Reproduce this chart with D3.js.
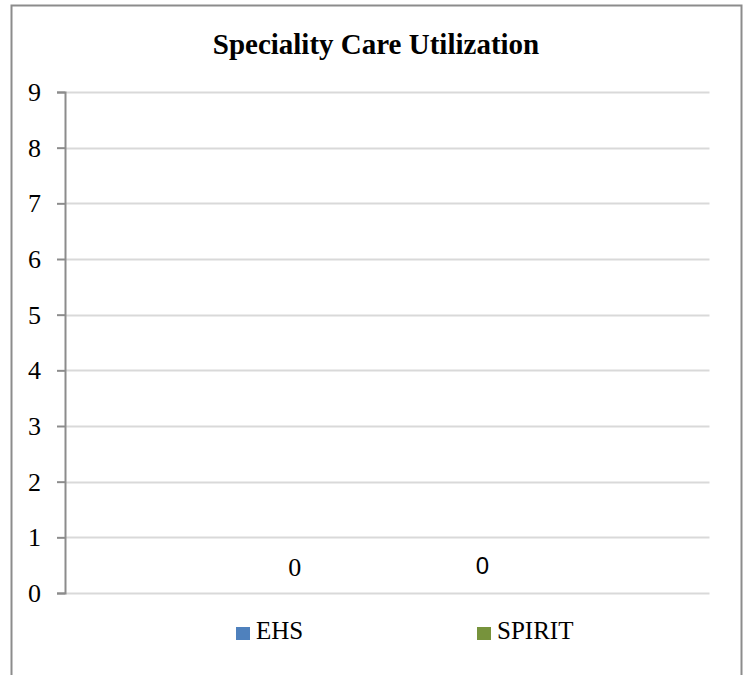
<!DOCTYPE html>
<html>
<head>
<meta charset="utf-8">
<script src="https://cdn.jsdelivr.net/npm/d3@7"></script>
<style>
  body { margin: 0; background: #fff; }
  svg { display: block; }
</style>
</head>
<body>
<div id="chart"></div>
<script>
// data
var categories = ['Speciality Care'];
var seriesNames = ['EHS', 'SPIRIT'];
var seriesValues = [0, 0];
var seriesColors = ['#4f81bd', '#77933c'];
var yTicks = [0, 1, 2, 3, 4, 5, 6, 7, 8, 9];

// svg container
var width = 748;
var height = 675;

var margin = { top: 92, right: 38, bottom: 82, left: 65 };
var chartWidth = width - margin.left - margin.right;
var chartHeight = height - margin.top - margin.bottom;

var serif = '"Liberation Serif", "Times New Roman", "DejaVu Serif", serif';
var sans = '"Liberation Sans", Arial, sans-serif';

var svg = d3.select('#chart').append('svg')
    .attr('width', width)
    .attr('height', height);

// outer frame (bottom edge runs off the page)
svg.append('path')
    .attr('d', 'M11.5,' + height + ' V5.5 H741.5 V' + height)
    .attr('fill', 'none')
    .attr('stroke', '#8c8c8c')
    .attr('stroke-width', 2);

// title
svg.append('text')
    .attr('x', 376)
    .attr('y', 54)
    .attr('text-anchor', 'middle')
    .style('font-family', serif)
    .style('font-weight', 'bold')
    .style('font-size', '29px')
    .text('Speciality Care Utilization');

var chartGroup = svg.append('g')
    .attr('transform', `translate(${margin.left}, ${margin.top})`);

var yScale = d3.scaleLinear()
    .domain([0, 9])
    .range([chartHeight, 0]);

var xScale = d3.scaleBand()
    .domain(categories)
    .range([0, chartWidth]);

var seriesScale = d3.scaleBand()
    .domain(seriesNames)
    .range([0, xScale.bandwidth()])
    .paddingInner(0)
    .paddingOuter(0.7);

// gridlines
chartGroup.append('g')
    .selectAll('line')
    .data(yTicks)
    .enter()
    .append('line')
    .attr('x1', 0)
    .attr('x2', chartWidth - 0.5)
    .attr('y1', d => Math.round(yScale(d)) + 0.5)
    .attr('y2', d => Math.round(yScale(d)) + 0.5)
    .attr('stroke', '#d9d9d9')
    .attr('stroke-width', 2);

// y axis
var yAxis = d3.axisLeft(yScale)
    .tickValues(yTicks)
    .tickSize(8)
    .tickPadding(16)
    .tickFormat(d3.format('d'));

var yAxisGroup = chartGroup.append('g').call(yAxis);
yAxisGroup.select('.domain').attr('stroke', '#8c8c8c').attr('stroke-width', 2);
yAxisGroup.selectAll('.tick line').attr('stroke', '#8c8c8c').attr('stroke-width', 2);
yAxisGroup.selectAll('.tick text')
    .style('font-family', serif)
    .style('font-size', '26px')
    .attr('dy', '0.33em')
    .attr('fill', '#000');

// bars (zero height)
var catGroup = chartGroup.append('g')
    .attr('transform', `translate(${xScale(categories[0])}, 0)`);

catGroup.selectAll('rect')
    .data(seriesValues)
    .enter()
    .append('rect')
    .attr('x', (d, i) => seriesScale(seriesNames[i]))
    .attr('y', d => yScale(d))
    .attr('width', seriesScale.bandwidth())
    .attr('height', d => chartHeight - yScale(d))
    .attr('fill', (d, i) => seriesColors[i]);

// data labels
var labelFonts = [serif, sans];
var labelSizes = ['26px', '24px'];
var labelOffsets = [17, 19];
catGroup.selectAll('.dlabel')
    .data(seriesValues)
    .enter()
    .append('text')
    .attr('class', 'dlabel')
    .attr('x', (d, i) => seriesScale(seriesNames[i]) + seriesScale.bandwidth() / 2 + (i === 0 ? 2 : 0))
    .attr('y', (d, i) => yScale(d) - labelOffsets[i])
    .attr('text-anchor', 'middle')
    .style('font-family', (d, i) => labelFonts[i])
    .style('font-size', (d, i) => labelSizes[i])
    .text(d => d);

// legend
var legendX = [236, 477];
var legend = svg.append('g')
    .selectAll('g')
    .data(seriesNames)
    .enter()
    .append('g')
    .attr('transform', (d, i) => `translate(${legendX[i]}, 627)`);

legend.append('rect')
    .attr('width', 14)
    .attr('height', 13)
    .attr('fill', (d, i) => seriesColors[i]);

legend.append('text')
    .attr('x', 20)
    .attr('y', 12)
    .style('font-family', serif)
    .style('font-size', '25px')
    .text(d => d);
</script>
</body>
</html>
